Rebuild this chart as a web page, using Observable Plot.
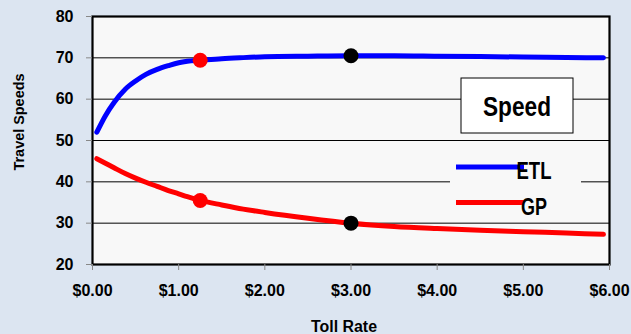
<!DOCTYPE html>
<html>
<head>
<meta charset="utf-8">
<script src="https://cdn.jsdelivr.net/npm/d3@7"></script>
<script src="https://cdn.jsdelivr.net/npm/@observablehq/plot@0.6"></script>
<style>
  html, body { margin: 0; padding: 0; background: #dce5f1; }
  #chart { width: 631px; height: 334px; }
</style>
</head>
<body>
<div id="chart"></div>
<script>
// Toll rate ($) and resulting travel speeds on the express toll lanes (ETL)
// and the general purpose lanes (GP)
const tollRates = [0.05, 0.15, 0.25, 0.38, 0.5, 0.62, 0.75, 0.88, 1.0, 1.1, 1.25, 1.5, 1.75, 2.0, 2.5, 3.0, 3.5, 4.0, 4.5, 5.0, 5.5, 5.93];
const etlSpeeds = [52.0, 56.0, 59.2, 62.4, 64.4, 66.0, 67.2, 68.1, 68.8, 69.15, 69.4, 69.8, 70.05, 70.25, 70.4, 70.5, 70.5, 70.4, 70.3, 70.2, 70.1, 70.0];
const gpSpeeds  = [45.6, 44.5, 43.4, 42.0, 40.9, 39.9, 38.9, 37.9, 37.1, 36.4, 35.5, 34.4, 33.4, 32.6, 31.2, 30.0, 29.2, 28.7, 28.3, 27.95, 27.6, 27.3];

// Highlighted operating points
const markedTolls = [1.25, 3.0];
const markedColors = ["#ff0000", "#000000"];

// Axis ticks and text
const xTicks = [0, 1, 2, 3, 4, 5, 6];
const yTicks = [20, 30, 40, 50, 60, 70, 80];
const gridTicks = [30, 40, 50, 60, 70];
const yTitle = "Travel Speeds";
const xTitle = "Toll Rate";
const boxTitle = "Speed";
const seriesNames = ["ETL", "GP"];
const seriesColors = ["#0000ff", "#ff0000"];

const FONT = "'Liberation Sans', Arial, Helvetica, sans-serif";

const etlRows = tollRates.map((t, i) => ({toll: t, speed: etlSpeeds[i]}));
const gpRows = tollRates.map((t, i) => ({toll: t, speed: gpSpeeds[i]}));
const dotRows = markedTolls.flatMap((t, i) => {
  const k = tollRates.indexOf(t);
  return [
    {toll: t, speed: etlSpeeds[k], color: markedColors[i]},
    {toll: t, speed: gpSpeeds[k], color: markedColors[i]}
  ];
});

// Titles, "Speed" box and series legend, placed relative to the plot frame
function annotations(index, scales, values, dimensions) {
  const {width, height, marginLeft, marginRight, marginTop} = dimensions;
  const R = width - marginRight, T = marginTop;
  const cx = (marginLeft + R) / 2;
  const g = d3.create("svg:g")
    .attr("font-family", FONT)
    .attr("font-weight", "bold")
    .attr("fill", "#000");

  // legend background hides the grid line behind it
  g.append("rect")
    .attr("x", R - 159).attr("y", T + 134)
    .attr("width", 131).attr("height", 65)
    .attr("fill", "#f8f8f8");

  seriesNames.forEach((name, i) => {
    const ly = T + 151 + i * 35.5;
    g.append("line")
      .attr("x1", R - 153).attr("x2", R - 85)
      .attr("y1", ly).attr("y2", ly)
      .attr("stroke", seriesColors[i]).attr("stroke-width", 5);
    g.append("text")
      .attr("x", R - 75).attr("y", ly + 12)
      .attr("font-size", 23)
      .attr("textLength", name === "ETL" ? 35 : 26)
      .attr("lengthAdjust", "spacingAndGlyphs")
      .text(name);
  });

  // boxed "Speed" label
  g.append("rect")
    .attr("x", R - 148).attr("y", T + 62)
    .attr("width", 112).attr("height", 55)
    .attr("fill", "#ffffff").attr("stroke", "#000").attr("stroke-width", 1);
  g.append("text")
    .attr("x", R - 92).attr("y", T + 100)
    .attr("text-anchor", "middle")
    .attr("font-size", 27)
    .attr("textLength", 68)
    .attr("lengthAdjust", "spacingAndGlyphs")
    .text(boxTitle);

  // axis titles
  g.append("text")
    .attr("transform", `translate(24, ${T + 106}) rotate(-90)`)
    .attr("text-anchor", "middle")
    .attr("font-size", 15)
    .attr("textLength", 97)
    .attr("lengthAdjust", "spacingAndGlyphs")
    .text(yTitle);
  g.append("text")
    .attr("x", cx - 6.5).attr("y", height - 2.5)
    .attr("text-anchor", "middle")
    .attr("font-size", 16)
    .attr("textLength", 66)
    .attr("lengthAdjust", "spacingAndGlyphs")
    .text(xTitle);

  return g.node();
}

const chart = Plot.plot({
  width: 631,
  height: 334,
  marginLeft: 92,
  marginRight: 22,
  marginTop: 16,
  marginBottom: 70,
  style: {background: "transparent", fontFamily: FONT, fontWeight: "bold", fontSize: "16px", color: "#000", overflow: "visible"},
  x: {domain: [0, 6], label: null},
  y: {domain: [20, 80], label: null},
  color: {type: "identity"},
  marks: [
    Plot.frame({fill: "#f8f8f8"}),
    Plot.gridY(gridTicks, {stroke: "#000", strokeOpacity: 1, strokeWidth: 1}),
    annotations,
    Plot.line(etlRows, {x: "toll", y: "speed", stroke: seriesColors[0], strokeWidth: 5, curve: "monotone-x"}),
    Plot.line(gpRows, {x: "toll", y: "speed", stroke: seriesColors[1], strokeWidth: 5, curve: "monotone-x"}),
    Plot.dot(dotRows, {x: "toll", y: "speed", r: 7.5, fill: "color", stroke: null}),
    Plot.frame({stroke: "#000", strokeWidth: 2.2}),
    Plot.axisY(yTicks, {anchor: "left", tickSize: 6, tickPadding: 13, stroke: "#888", fontSize: 16, fontWeight: "bold", label: null}),
    Plot.axisX(xTicks, {anchor: "bottom", tickSize: 6, tickPadding: 14, stroke: "#888", fontSize: 16, fontWeight: "bold", tickFormat: d => "$" + d.toFixed(2), label: null})
  ]
});

document.getElementById("chart").appendChild(chart);
</script>
</body>
</html>
